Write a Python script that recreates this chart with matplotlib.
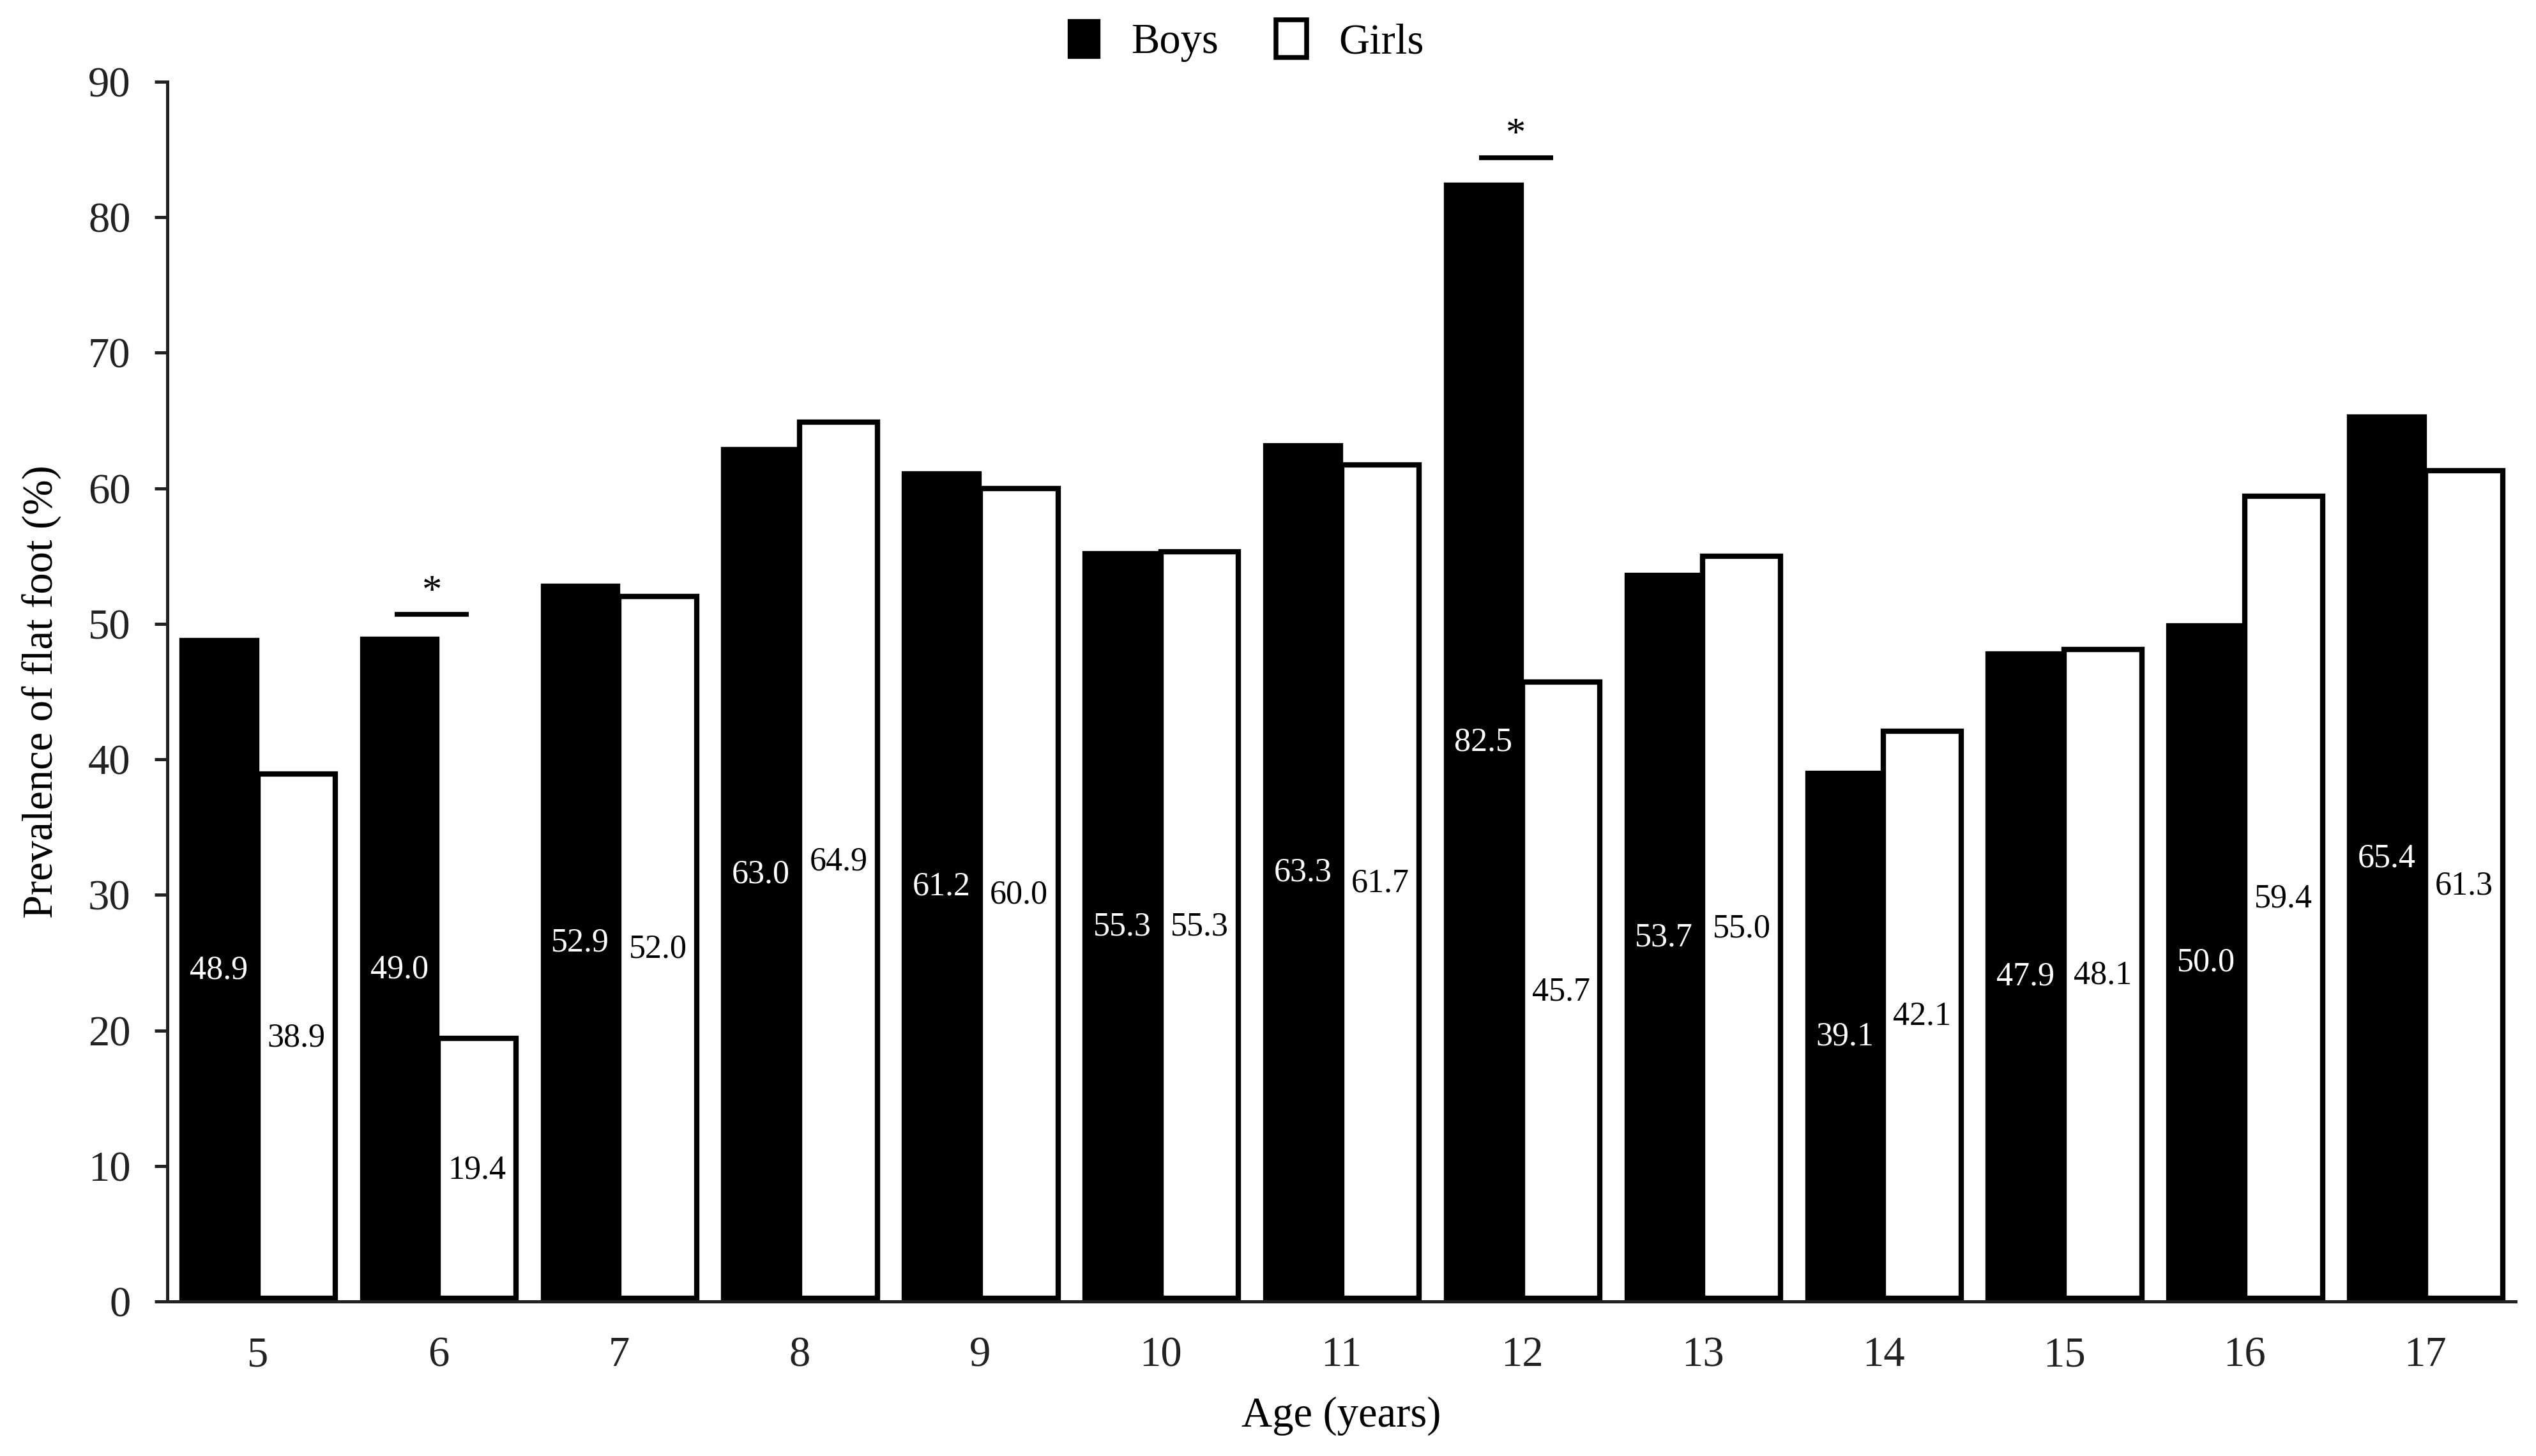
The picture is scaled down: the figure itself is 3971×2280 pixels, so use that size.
import matplotlib
matplotlib.use("Agg")
import matplotlib.pyplot as plt
import numpy as np
from matplotlib.patches import Patch

plt.rcParams['font.family'] = ['Liberation Serif', 'DejaVu Serif']

ages = ['5', '6', '7', '8', '9', '10', '11', '12', '13', '14', '15', '16', '17']
boys = [48.9, 49.0, 52.9, 63.0, 61.2, 55.3, 63.3, 82.5, 53.7, 39.1, 47.9, 50.0, 65.4]
girls = [38.9, 19.4, 52.0, 64.9, 60.0, 55.3, 61.7, 45.7, 55.0, 42.1, 48.1, 59.4, 61.3]
sig_ages = ['6', '12']
sig_line_y = [50.7, 84.4]

fig = plt.figure(figsize=(3971/300, 2280/300), dpi=300)
ax = fig.add_axes([0.066, 0.106, 0.926, 0.838])

x = np.arange(len(ages))
w = 0.43
ax.bar(x - w/2, boys, w, color='black', edgecolor='black', linewidth=0.8, label='Boys')
ax.bar(x + w/2, np.array(girls) - 0.25, w, bottom=0.25, color='white', edgecolor='black',
       linewidth=2.0, label='Girls')

for i in range(len(ages)):
    ax.text(x[i] - w/2, boys[i] / 2, f"{boys[i]:.1f}", ha='center', va='center',
            color='white', fontsize=12.5)
    ax.text(x[i] + w/2, girls[i] / 2, f"{girls[i]:.1f}", ha='center', va='center',
            color='black', fontsize=12.5)

for a, yv in zip(sig_ages, sig_line_y):
    i = ages.index(a)
    ax.plot([i - 0.24, i + 0.17], [yv, yv], color='black', lw=1.8, solid_capstyle='butt')
    ax.text(i - 0.035, yv + 0.2, '*', ha='center', va='bottom', fontsize=15, color='black')

ax.set_xlim(-0.5, len(ages) - 0.5)
ax.set_ylim(0, 90)
ax.set_yticks(np.arange(0, 91, 10))
ax.set_xticks(x)
ax.set_xticklabels(ages)
ax.tick_params(axis='y', length=4.8, width=1.2, pad=9, labelsize=16, colors='#222222')
ax.tick_params(axis='x', length=0, pad=13, labelsize=16, colors='#222222')
for s in ['top', 'right']:
    ax.spines[s].set_visible(False)
for s in ['left', 'bottom']:
    ax.spines[s].set_linewidth(1.2)
    ax.spines[s].set_color('#222222')

ax.set_xlabel('Age (years)', fontsize=16, labelpad=8)
ax.set_ylabel('Prevalence of flat foot (%)', fontsize=16, labelpad=10)

handles = [Patch(facecolor='black', edgecolor='black', linewidth=0.8),
           Patch(facecolor='white', edgecolor='black', linewidth=1.8)]
fig.legend(handles, ['Boys', 'Girls'], loc='center', bbox_to_anchor=(0.4914, 0.972),
           ncol=2, frameon=False, fontsize=16, handlelength=0.72, handleheight=1.0,
           handletextpad=0.75, columnspacing=1.35)

fig.savefig('out.png', dpi=300)
